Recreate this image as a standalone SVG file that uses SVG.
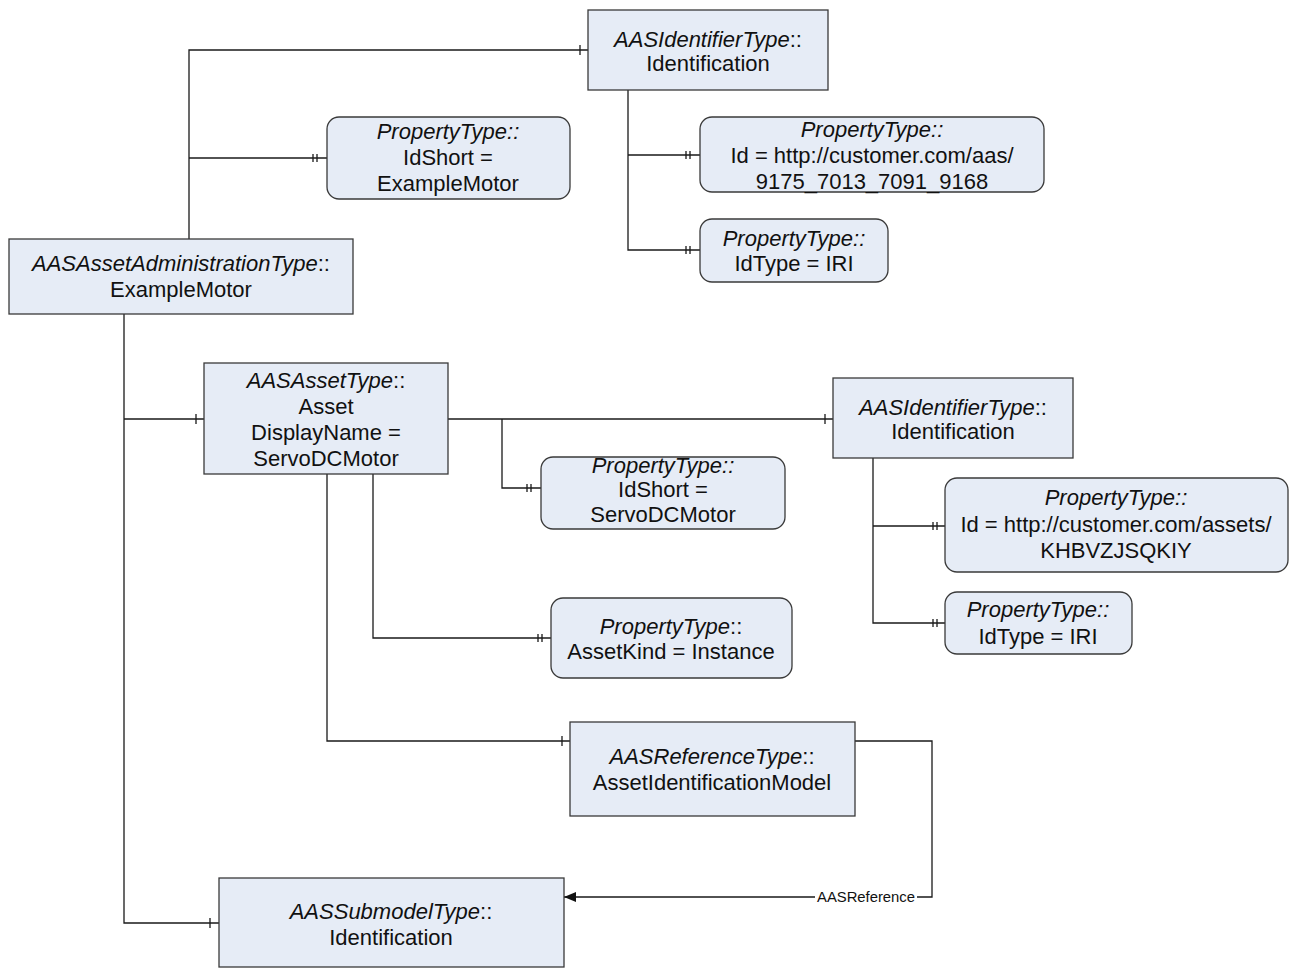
<svg xmlns="http://www.w3.org/2000/svg" width="1292" height="968" viewBox="0 0 1292 968">
<defs>
<style>
.box{fill:#e6ecf6;stroke:#3a3a3a;stroke-width:1.3}
.t{font-family:"Liberation Sans",Arial,sans-serif;font-size:22px;fill:#111;text-anchor:middle}
.i{font-style:italic}
.c{fill:none;stroke:#1a1a1a;stroke-width:1.3}
.lbl{font-family:"Liberation Sans",Arial,sans-serif;font-size:14px;fill:#111;text-anchor:middle}
</style>
<marker id="arr" viewBox="0 0 12 10" refX="12" refY="5" markerWidth="12" markerHeight="10" markerUnits="userSpaceOnUse" orient="auto">
<path d="M0,0 L12,5 L0,10 z" fill="#111"/>
</marker>
</defs>
<rect width="1292" height="968" fill="#fff"/>

<g id="connectors">
<path class="c" d="M189,239 V50 H588"/>
<path class="c" d="M580,45 V55"/>
<path class="c" d="M189,158 H327"/>
<path class="c" d="M313,154 V162 M317,154 V162"/>
<path class="c" d="M628,90 V250 H700 M628,155 H700"/>
<path class="c" d="M686,151 V159 M690,151 V159 M686,246 V254 M690,246 V254"/>
<path class="c" d="M124,314 V923 H219 M124,419 H204"/>
<path class="c" d="M196,414 V424 M210,918 V928"/>
<path class="c" d="M448,419 H833"/>
<path class="c" d="M825,414 V424"/>
<path class="c" d="M502,419 V488 H541"/>
<path class="c" d="M527,484 V492 M531,484 V492"/>
<path class="c" d="M873,458 V623 H945 M873,526 H945"/>
<path class="c" d="M933,522 V530 M937,522 V530 M933,619 V627 M937,619 V627"/>
<path class="c" d="M373,474 V638 H551"/>
<path class="c" d="M538,634 V642 M542,634 V642"/>
<path class="c" d="M327,474 V741 H570"/>
<path class="c" d="M562,736 V746"/>
<path class="c" d="M855,741 H932 V897 H564" marker-end="url(#arr)"/>
<rect x="815" y="889" width="102" height="16" fill="#fff"/>
<text class="lbl" x="866" y="902" textLength="98" lengthAdjust="spacingAndGlyphs">AASReference</text>
</g>

<g id="node-admin">
<rect class="box" x="9" y="239" width="344" height="75"/>
<text class="t" x="181" y="271"><tspan class="i">AASAssetAdministrationType</tspan>::</text>
<text class="t" x="181" y="297">ExampleMotor</text>
</g>

<g id="node-identification-top">
<rect class="box" x="588" y="10" width="240" height="80"/>
<text class="t" x="708" y="47"><tspan class="i">AASIdentifierType</tspan>::</text>
<text class="t" x="708" y="71">Identification</text>
</g>

<g id="node-idshort-examplemotor">
<rect class="box" x="327" y="117" width="243" height="82" rx="12"/>
<text class="t i" x="448" y="139">PropertyType::</text>
<text class="t" x="448" y="165">IdShort =</text>
<text class="t" x="448" y="191">ExampleMotor</text>
</g>

<g id="node-id-aas">
<rect class="box" x="700" y="117" width="344" height="75" rx="12"/>
<text class="t i" x="872" y="137">PropertyType::</text>
<text class="t" x="872" y="163">Id = http://customer.com/aas/</text>
<text class="t" x="872" y="189">9175_7013_7091_9168</text>
</g>

<g id="node-idtype-aas">
<rect class="box" x="700" y="219" width="188" height="63" rx="12"/>
<text class="t i" x="794" y="246">PropertyType::</text>
<text class="t" x="794" y="271">IdType = IRI</text>
</g>

<g id="node-asset">
<rect class="box" x="204" y="363" width="244" height="111"/>
<text class="t" x="326" y="388"><tspan class="i">AASAssetType</tspan>::</text>
<text class="t" x="326" y="414">Asset</text>
<text class="t" x="326" y="440">DisplayName =</text>
<text class="t" x="326" y="466">ServoDCMotor</text>
</g>

<g id="node-idshort-servo">
<rect class="box" x="541" y="457" width="244" height="72" rx="12"/>
<text class="t i" x="663" y="473">PropertyType::</text>
<text class="t" x="663" y="497">IdShort =</text>
<text class="t" x="663" y="522">ServoDCMotor</text>
</g>

<g id="node-identification-asset">
<rect class="box" x="833" y="378" width="240" height="80"/>
<text class="t" x="953" y="415"><tspan class="i">AASIdentifierType</tspan>::</text>
<text class="t" x="953" y="439">Identification</text>
</g>

<g id="node-id-asset">
<rect class="box" x="945" y="478" width="343" height="94" rx="12"/>
<text class="t i" x="1116" y="505">PropertyType::</text>
<text class="t" x="1116" y="532">Id = http://customer.com/assets/</text>
<text class="t" x="1116" y="558">KHBVZJSQKIY</text>
</g>

<g id="node-idtype-asset">
<rect class="box" x="945" y="592" width="187" height="62" rx="12"/>
<text class="t i" x="1038" y="617">PropertyType::</text>
<text class="t" x="1038" y="644">IdType = IRI</text>
</g>

<g id="node-assetkind">
<rect class="box" x="551" y="598" width="241" height="80" rx="12"/>
<text class="t" x="671" y="634"><tspan class="i">PropertyType</tspan>::</text>
<text class="t" x="671" y="659">AssetKind = Instance</text>
</g>

<g id="node-reference">
<rect class="box" x="570" y="722" width="285" height="94"/>
<text class="t" x="712" y="764"><tspan class="i">AASReferenceType</tspan>::</text>
<text class="t" x="712" y="790">AssetIdentificationModel</text>
</g>

<g id="node-submodel">
<rect class="box" x="219" y="878" width="345" height="89"/>
<text class="t" x="391" y="919"><tspan class="i">AASSubmodelType</tspan>::</text>
<text class="t" x="391" y="945">Identification</text>
</g>
</svg>
